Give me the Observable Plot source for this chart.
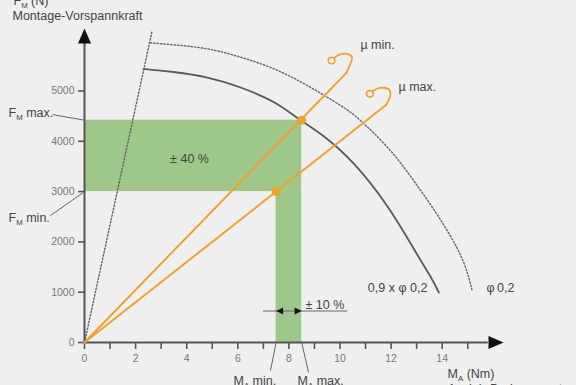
<!DOCTYPE html>
<html>
<head>
<meta charset="utf-8">
<script src="https://cdn.jsdelivr.net/npm/d3@7"></script>
<script src="https://cdn.jsdelivr.net/npm/@observablehq/plot@0.6"></script>
<style>
  html, body { margin: 0; padding: 0; background: #efefef; }
</style>
</head>
<body>
<div id="chart"></div>
<script>
// ---- data ----
const xTicks = [0,1,2,3,4,5,6,7,8,9,10,11,12,13,14,15];
const xTickLabels = [0,2,4,6,8,10,12,14];
const yTickLabels = [0,1000,2000,3000,4000,5000];

// 0,9 x φ0,2 curve (solid)
const curve09M = [2.31,3.48,4.81,6.11,7.40,8.45,9.35,10.53,11.86,12.88,13.54,13.87];
const curve09F = [5441,5378,5268,5070,4781,4423,4105,3559,2704,1869,1312,994];
// φ0,2 curve (dotted)
const curvePhiM = [2.58,3.48,4.80,6.11,7.41,8.72,10.02,10.80,11.90,12.88,13.80,14.59,14.98,15.17];
const curvePhiF = [5958,5918,5839,5672,5441,5109,4712,4414,3857,3221,2545,1869,1392,1034];
// steep dotted line
const steepM = [0, 2.65];
const steepF = [0, 6203];

// μ min line + curl
const muMinLineM = [0, 10.25];
const muMinLineF = [0, 5360];
const muMinCurlM = [10.25,10.42,10.47,10.30,10.00,9.76];
const muMinCurlF = [5360,5560,5680,5735,5728,5654];
const muMinEnd = [9.67, 5606];
// μ max line + curl
const muMaxLineM = [0, 11.80];
const muMaxLineF = [0, 4720];
const muMaxCurlM = [11.80,11.96,11.94,11.70,11.45,11.26];
const muMaxCurlF = [4720,4900,5020,5065,5045,4990];
const muMaxEnd = [11.17, 4944];

// tolerance bands
const fMin = 3000, fMax = 4420;
const mMin = 7.5, mMax = 8.5;
const dimLineF = 626;

// labels
const labels = [
  {t: "F_M max.", x: -2.97, y: 4560, a: "start"},
  {t: "F_M min.", x: -2.97, y: 2485, a: "start"},
  {t: "± 40 %", x: 4.11, y: 3658, a: "middle"},
  {t: "± 10 %", x: 8.65, y: 755, a: "start"},
  {t: "µ min.", x: 10.8, y: 5905, a: "start"},
  {t: "µ max.", x: 12.29, y: 5070, a: "start"},
  {t: "0,9 x φ 0,2", x: 13.42, y: 1074, a: "end"},
  {t: "φ\u20090,2", x: 15.73, y: 1074, a: "start"},
  {t: "M_A min.", x: 5.83, y: -775, a: "start"},
  {t: "M_A max.", x: 8.34, y: -775, a: "start"},
  {t: "M_A (Nm)", x: 14.21, y: -636, a: "start"},
  {t: "Anzieh-Drehmoment", x: 14.21, y: -934, a: "start"}
];
const leaders = [
  {x1: -1.25, y1: 4530, x2: 0, y2: 4420},
  {x1: -1.33, y1: 2525, x2: -0.05, y2: 2980},
  {x1: 7.28, y1: -557, x2: 7.5, y2: 0},
  {x1: 8.77, y1: -596, x2: 8.5, y2: 0}
];
const titleLines = ["F_M (N)", "Montage-Vorspannkraft"];

// ---- helpers ----
const zip = (M, F) => M.map((m, i) => ({m, f: F[i]}));
const arrowBig = {draw(ctx){ctx.moveTo(0,0);ctx.lineTo(6.5,15);ctx.lineTo(-6.5,15);ctx.closePath();}};
const arrowSmall = {draw(ctx){ctx.moveTo(0,0);ctx.lineTo(3.4,7);ctx.lineTo(-3.4,7);ctx.closePath();}};
const tickDown = {draw(ctx){ctx.moveTo(0,0);ctx.lineTo(0,6.5);}};
const tickLeft = {draw(ctx){ctx.moveTo(0,0);ctx.lineTo(-6.5,0);}};

const orange = "#f2a229";
const green = "#9ec88a";
const axisCol = "#555";

const bands = [
  {x1: 0, x2: mMax, y1: fMin, y2: fMax},
  {x1: mMin, x2: mMax, y1: 0, y2: fMin}
];

const labelMarks = ["start", "middle", "end"].map(a =>
  Plot.text(labels.filter(d => d.a === a), {x: "x", y: "y", text: "t", textAnchor: a, fontSize: 12.5, fill: "#444"})
);

const svg = Plot.plot({
  width: 576,
  height: 385,
  marginLeft: 84,
  marginRight: 83.2,
  marginTop: 40.2,
  marginBottom: 43,
  x: {domain: [0, 16], axis: null},
  y: {domain: [0, 6000], axis: null},
  style: {background: "#efefef", fontFamily: "'Liberation Sans', Arial, sans-serif"},
  marks: [
    Plot.rect(bands, {x1: "x1", x2: "x2", y1: "y1", y2: "y2", fill: green}),
    // dotted steep line and dotted φ0,2 curve
    Plot.line(zip(steepM, steepF), {x: "m", y: "f", stroke: "#666", strokeWidth: 1.4, strokeDasharray: "1.4 2"}),
    Plot.line(zip(curvePhiM, curvePhiF), {x: "m", y: "f", stroke: "#666", strokeWidth: 1.4, strokeDasharray: "1.4 2", curve: "natural"}),
    // solid 0,9 curve
    Plot.line(zip(curve09M, curve09F), {x: "m", y: "f", stroke: "#5a5a5a", strokeWidth: 1.8, curve: "natural"}),
    // axes
    Plot.ruleY([0], {x1: 0, x2: 15.8, stroke: axisCol, strokeWidth: 2}),
    Plot.ruleX([0], {y1: 0, y2: 5950, stroke: axisCol, strokeWidth: 2}),
    Plot.dot([0], {x: 0, y: 6243, symbol: arrowBig, fill: "#111", stroke: "none"}),
    Plot.dot([0], {x: 16.4, y: 0, symbol: arrowBig, rotate: 90, fill: "#111", stroke: "none"}),
    Plot.dot(xTicks, {x: d => d, y: 0, symbol: tickDown, stroke: axisCol, strokeWidth: 1.6, fill: "none"}),
    Plot.dot(yTickLabels, {x: 0, y: d => d, symbol: tickLeft, stroke: axisCol, strokeWidth: 1.6, fill: "none"}),
    Plot.text(xTickLabels, {x: d => d, y: 0, dy: 16, text: d => String(d), fontSize: 10.5, fill: "#777"}),
    Plot.text(yTickLabels, {x: 0, y: d => d, dx: -10, text: d => String(d), textAnchor: "end", fontSize: 10.5, fill: "#777"}),
    // orange lines
    Plot.line(zip(muMinLineM, muMinLineF), {x: "m", y: "f", stroke: orange, strokeWidth: 2}),
    Plot.line(zip(muMaxLineM, muMaxLineF), {x: "m", y: "f", stroke: orange, strokeWidth: 2}),
    Plot.line(zip(muMinCurlM, muMinCurlF), {x: "m", y: "f", stroke: orange, strokeWidth: 1.8, curve: "catmull-rom"}),
    Plot.line(zip(muMaxCurlM, muMaxCurlF), {x: "m", y: "f", stroke: orange, strokeWidth: 1.8, curve: "catmull-rom"}),
    Plot.dot([muMinEnd, muMaxEnd], {x: d => d[0], y: d => d[1], r: 3.3, stroke: orange, strokeWidth: 1.6, fill: "none"}),
    Plot.dot([[mMax, fMax], [mMin, fMin]], {x: d => d[0], y: d => d[1], r: 4.5, fill: orange, stroke: "none"}),
    // dimension line ±10 %
    Plot.ruleY([dimLineF], {x1: 7.0, x2: 10.3, stroke: "#666", strokeWidth: 1}),
    Plot.dot([mMin], {x: d => d, y: dimLineF, symbol: arrowSmall, rotate: -90, fill: "#111", stroke: "none"}),
    Plot.dot([mMax], {x: d => d, y: dimLineF, symbol: arrowSmall, rotate: 90, fill: "#111", stroke: "none"}),
    // leader lines
    Plot.link(leaders, {x1: "x1", y1: "y1", x2: "x2", y2: "y2", stroke: "#666", strokeWidth: 1}),
    // labels
    ...labelMarks,
    Plot.text([titleLines[0]], {frameAnchor: "top-left", lineAnchor: "middle", dx: -71, dy: -40, textAnchor: "start", text: d => d, fontSize: 12.5, fill: "#444"}),
    Plot.text([titleLines[1]], {frameAnchor: "top-left", lineAnchor: "middle", dx: -72, dy: -25, textAnchor: "start", text: d => d, fontSize: 12.5, fill: "#444"})
  ]
});

// turn "X_Y rest" into X with subscript Y
d3.select(svg).selectAll("text").each(function() {
  const s = this.textContent;
  const m = s.match(/^([^_]*)_(\w)(.*)$/);
  if (!m) return;
  const sel = d3.select(this);
  sel.text(null);
  sel.append("tspan").text(m[1]);
  sel.append("tspan").attr("font-size", "62%").attr("dy", 3).text(m[2]);
  sel.append("tspan").attr("dy", -3).text(m[3]);
});

document.getElementById("chart").appendChild(svg);
</script>
</body>
</html>
